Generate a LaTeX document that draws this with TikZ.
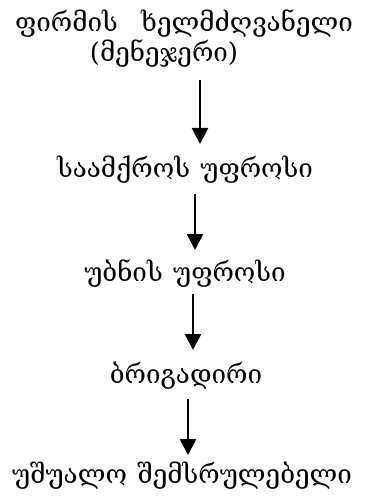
\documentclass[tikz,border=0pt]{standalone}
\usepackage{fontspec}
\setmainfont{DejaVu Serif}
\usetikzlibrary{arrows.meta}
\begin{document}
\begin{tikzpicture}[x=1pt,y=-1pt,
  lbl/.style={anchor=base,inner sep=0pt,font=\fontsize{26}{30}\selectfont},
  arr/.style={line width=2.6pt,-{Triangle[length=16pt,width=16pt]}}]
\useasboundingbox (0,0) rectangle (364,497);
\node[lbl] (t1) at (184,32) {ფირმის\hspace{0.9em}ხელმძღვანელი};
\node[lbl] (t2) at (164,62) {(მენეჯერი)};
\node[lbl] (t3) at (185,177) {საამქროს\hspace{0.4em}უფროსი};
\node[lbl] (t4) at (185,281) {უბნის\hspace{0.4em}უფროსი};
\node[lbl] (t5) at (186,383) {ბრიგადირი};
\node[lbl] (t6) at (182,483) {უშუალო\hspace{0.4em}შემსრულებელი};
\coordinate (a1) at (200,80); \coordinate (b1) at (200,144);
\coordinate (a2) at (195,194); \coordinate (b2) at (195,250);
\coordinate (a3) at (193,294); \coordinate (b3) at (193,350);
\coordinate (a4) at (188,399); \coordinate (b4) at (188,455);
\draw[arr] (a1) -- (b1);
\draw[arr] (a2) -- (b2);
\draw[arr] (a3) -- (b3);
\draw[arr] (a4) -- (b4);
\end{tikzpicture}
\end{document}
